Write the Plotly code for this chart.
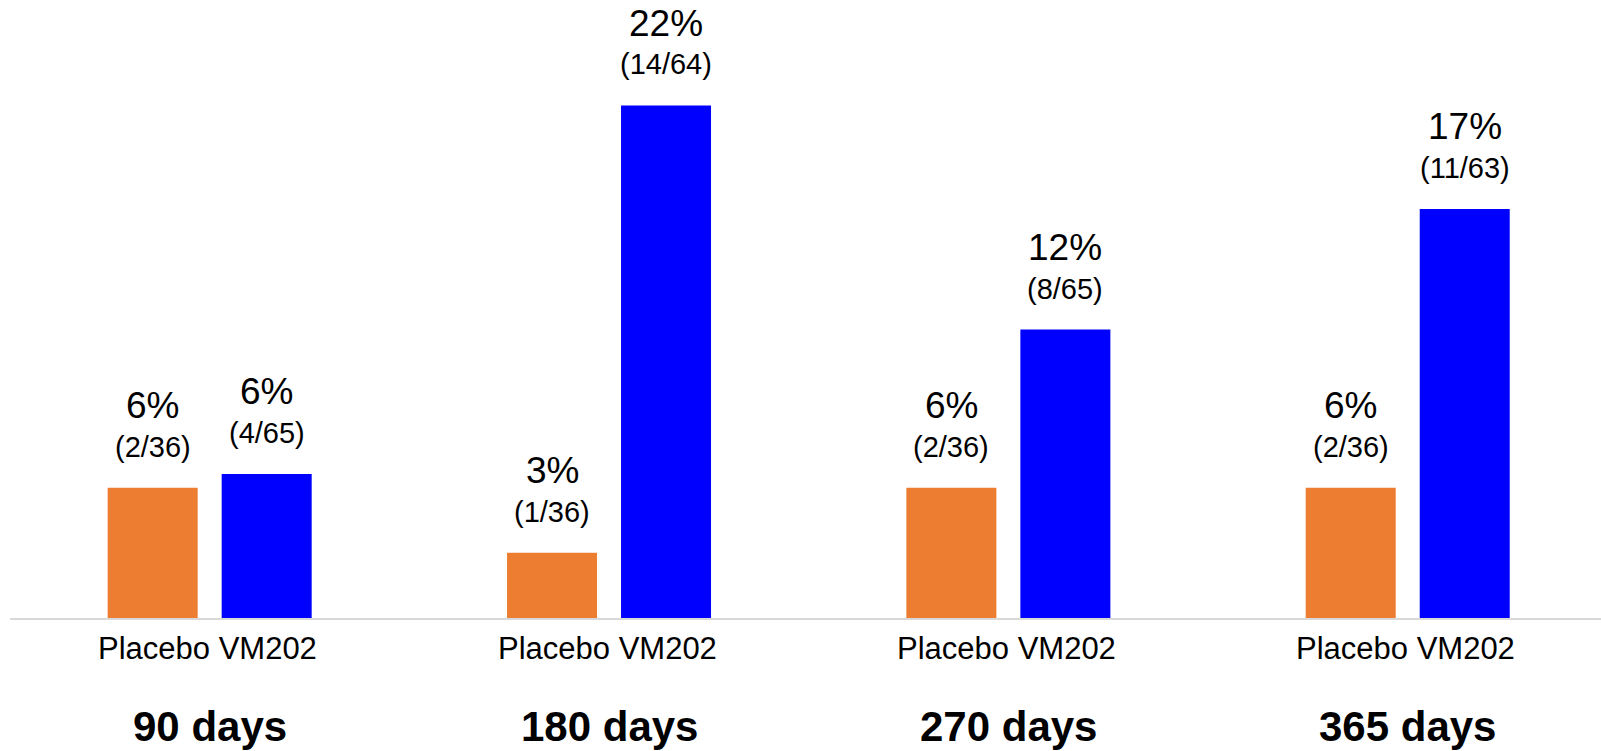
import plotly.graph_objects as go

# ---- data ----
timepoints = ["90 days", "180 days", "270 days", "365 days"]
placebo_pct = [5.56, 2.78, 5.56, 5.56]
vm202_pct = [6.15, 21.88, 12.31, 17.46]
placebo_labels = ["6%", "3%", "6%", "6%"]
vm202_labels = ["6%", "22%", "12%", "17%"]
placebo_counts = ["(2/36)", "(1/36)", "(2/36)", "(2/36)"]
vm202_counts = ["(4/65)", "(14/64)", "(8/65)", "(11/63)"]
group_label = "Placebo VM202"

ORANGE = "#ED7D31"
BLUE = "#0000FF"
FONT = "Arial, Liberation Sans, Arimo, sans-serif"

fig = go.Figure()
fig.add_trace(go.Bar(x=timepoints, y=placebo_pct, name="Placebo",
                     marker=dict(color=ORANGE, line=dict(width=0))))
fig.add_trace(go.Bar(x=timepoints, y=vm202_pct, name="VM202",
                     marker=dict(color=BLUE, line=dict(width=0))))

ann = []
for series, labels, counts, shift in [
    (placebo_pct, placebo_labels, placebo_counts, -57),
    (vm202_pct, vm202_labels, vm202_counts, 57),
]:
    for cat, v, lab, cnt in zip(timepoints, series, labels, counts):
        ann.append(dict(x=cat, y=v, xref="x", yref="y", text=lab, showarrow=False,
                        xshift=shift, yshift=82, yanchor="middle", xanchor="center",
                        font=dict(family=FONT, size=37, color="black")))
        ann.append(dict(x=cat, y=v, xref="x", yref="y", text=cnt, showarrow=False,
                        xshift=shift, yshift=41, yanchor="middle", xanchor="center",
                        font=dict(family=FONT, size=29, color="black")))

for cat in timepoints:
    ann.append(dict(x=cat, y=0, xref="x", yref="paper", text=group_label, showarrow=False,
                    yshift=-30, yanchor="middle", xanchor="center", xshift=-2,
                    font=dict(family=FONT, size=31, color="black")))
    ann.append(dict(x=cat, y=0, xref="x", yref="paper", text="<b>" + cat + "</b>",
                    showarrow=False, yshift=-108, yanchor="middle", xanchor="center",
                    font=dict(family=FONT, size=42, color="black")))

fig.update_layout(
    width=1601, height=751,
    margin=dict(l=10, r=0, t=0, b=133),
    paper_bgcolor="white", plot_bgcolor="white",
    barmode="group", bargap=0.429, bargroupgap=0.2105,
    showlegend=False,
    annotations=ann,
    xaxis=dict(range=[-0.5, 3.484], showticklabels=False, ticks="",
               showline=True, linecolor="#d9d9d9", linewidth=2,
               showgrid=False, zeroline=False, fixedrange=True),
    yaxis=dict(range=[0, 26.38], visible=False, showgrid=False, zeroline=False,
               fixedrange=True),
)

fig.write_html("out.html", config={"displayModeBar": False})
